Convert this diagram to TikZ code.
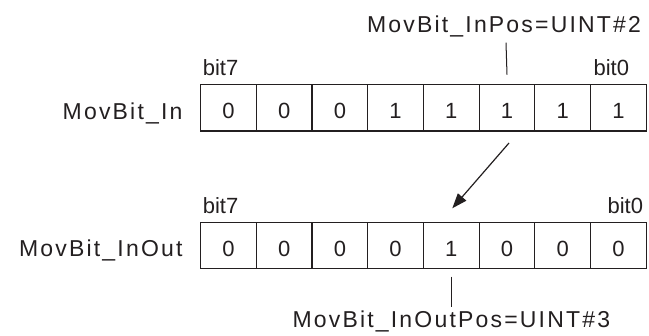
\documentclass[tikz,border=0pt]{standalone}
\usepackage{fontspec}
\setmainfont{Liberation Sans}
\newfontfamily\spacedfont[LetterSpace=9.5]{Liberation Sans}
\usepackage{xcolor}
\usepackage{tikz}
\usetikzlibrary{arrows.meta, positioning}
\definecolor{inkdark}{RGB}{35, 31, 32}

\begin{document}
\begin{tikzpicture}[
        % --- TikZ Styles ---
        bitcell/.style={
            draw=inkdark, line width=1.2pt, minimum width=55.7pt, minimum height=46.4pt,
            inner sep=0pt, outer sep=0pt, text=inkdark,
            font=\fontsize{22}{26}\selectfont, text height=21.8pt, text depth=0pt
        },
        rowlabel/.style={
            inner sep=0pt, text=inkdark,
            font=\spacedfont\fontsize{23}{27}\selectfont, text height=22.5pt, text depth=0pt
        },
        poslabel/.style={
            inner sep=0pt, text=inkdark,
            font=\spacedfont\fontsize{23}{27}\selectfont, text height=16.5pt, text depth=0pt
        },
        bitlabel/.style={
            inner sep=0pt, text=inkdark,
            font=\fontsize{22}{26}\selectfont, text height=16pt, text depth=0pt
        },
        tick/.style={draw=inkdark, line width=1pt},
        arrow/.style={draw=inkdark, line width=1.2pt, -{Triangle[length=15pt, width=11pt]}}
    ]
    \useasboundingbox (0,0) rectangle (649pt,336pt);

    % --- 1. INPUT REGISTER ---
    \node[bitcell] (in7) at (228.5pt,228.2pt) {0};
    \node[bitcell, right=0pt of in7] (in6) {0};
    \node[bitcell, right=0pt of in6] (in5) {0};
    \node[bitcell, right=0pt of in5] (in4) {1};
    \node[bitcell, right=0pt of in4] (in3) {1};
    \node[bitcell, right=0pt of in3] (in2) {1};
    \node[bitcell, right=0pt of in2] (in1) {1};
    \node[bitcell, right=0pt of in1] (in0) {1};

    \node[rowlabel, left=18pt of in7] (inname) {MovBit\_In};
    \node[bitlabel, anchor=south west] (inhi) at ([xshift=2pt, yshift=9pt]in7.north west) {bit7};
    \node[bitlabel, anchor=south east] (inlo) at ([xshift=-17pt, yshift=9pt]in0.north east) {bit0};
    \node[poslabel, anchor=south] (inpos) at ([xshift=-3pt, yshift=52pt]in2.north) {MovBit\_InPos=UINT\#2};

    % --- 2. OUTPUT REGISTER ---
    \node[bitcell] (out7) at (228.5pt,90.5pt) {0};
    \node[bitcell, right=0pt of out7] (out6) {0};
    \node[bitcell, right=0pt of out6] (out5) {0};
    \node[bitcell, right=0pt of out5] (out4) {0};
    \node[bitcell, right=0pt of out4] (out3) {1};
    \node[bitcell, right=0pt of out3] (out2) {0};
    \node[bitcell, right=0pt of out2] (out1) {0};
    \node[bitcell, right=0pt of out1] (out0) {0};

    \node[rowlabel, left=18pt of out7] (outname) {MovBit\_InOut};
    \node[bitlabel, anchor=south west] (outhi) at ([xshift=2pt, yshift=9pt]out7.north west) {bit7};
    \node[bitlabel, anchor=south east] (outlo) at ([xshift=-3pt, yshift=9pt]out0.north east) {bit0};
    \node[poslabel, anchor=north] (outpos) at ([yshift=-42pt]out3.south) {MovBit\_InOutPos=UINT\#3};

% --- CONNECTIONS ---

    % position markers
    \draw[tick] ([xshift=2pt, yshift=-10pt]inpos.south) -- ([yshift=10pt]in2.north);
    \draw[tick] ([yshift=-8pt]out3.south) -- ([yshift=4pt]outpos.north);

    % moved bit
    \draw[arrow] ([xshift=2pt, yshift=-12pt]in2.south) -- ([xshift=1pt, yshift=14pt]out3.north);

    \end{tikzpicture}
\end{document}
